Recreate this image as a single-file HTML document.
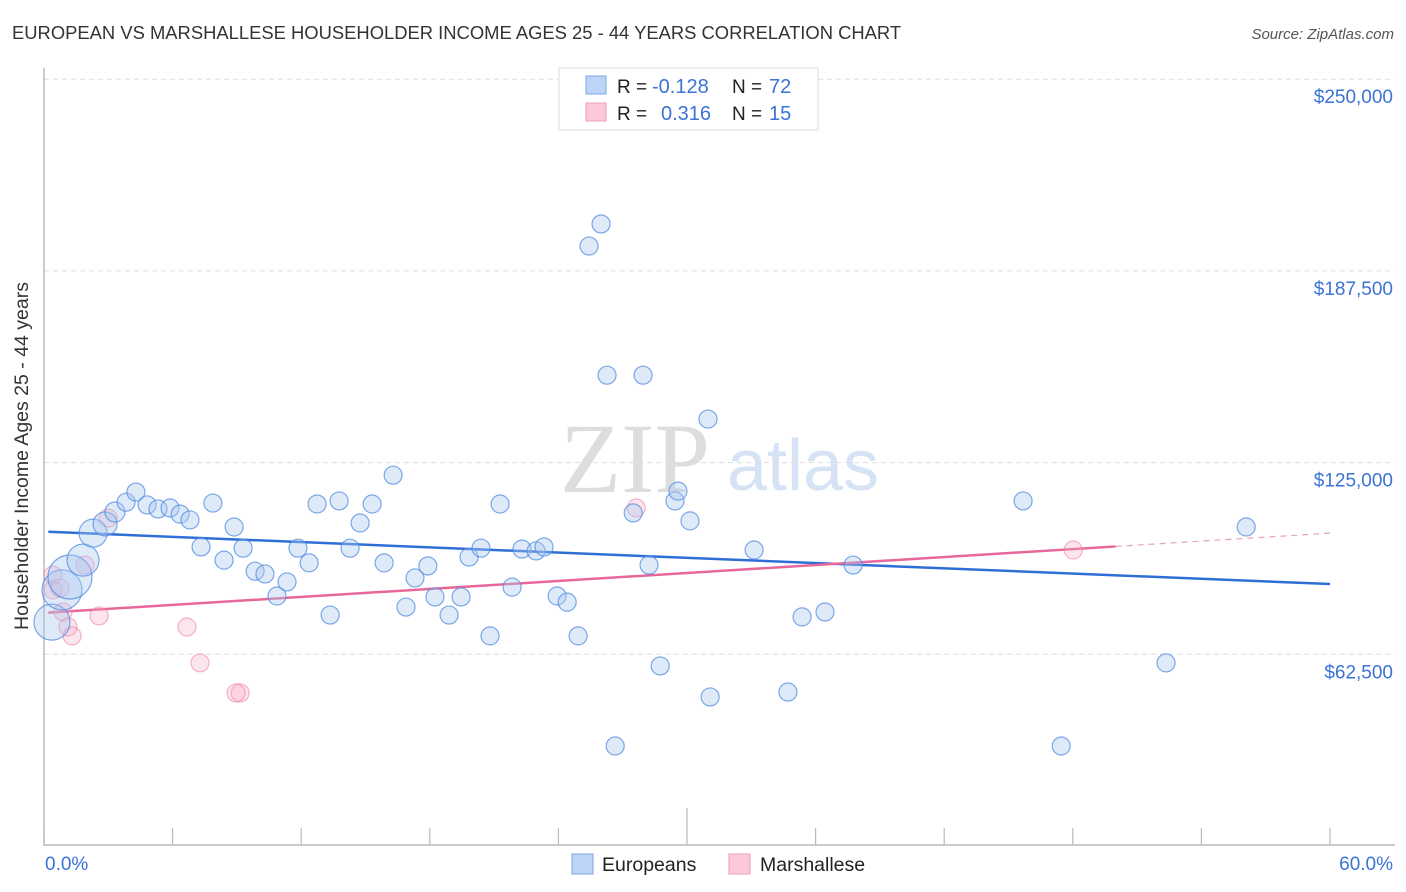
<!DOCTYPE html>
<html><head><meta charset="utf-8"><style>
body{margin:0;background:#fff;font-family:"Liberation Sans",sans-serif;}
svg{display:block}
</style></head><body>
<svg id="chart" width="1406" height="892">
<text x="12" y="39" font-size="18.4" fill="#333">EUROPEAN VS MARSHALLESE HOUSEHOLDER INCOME AGES 25 - 44 YEARS CORRELATION CHART</text>
<text x="1394" y="39" font-size="15" fill="#555" font-style="italic" text-anchor="end">Source: ZipAtlas.com</text>
<text x="28" y="456" font-size="19.5" fill="#333" text-anchor="middle" transform="rotate(-90 28 456)">Householder Income Ages 25 - 44 years</text>
<g>
<text x="635" y="492" font-size="100" fill="#ddd" font-family="Liberation Serif,serif" text-anchor="middle">ZIP</text>
<text x="803" y="490" font-size="72" fill="#d6e3f5" text-anchor="middle">atlas</text>
</g>
<g id="grid"></g><g id="axes"></g><g id="trends"></g><g id="points"></g>
<g>
<rect x="559" y="68" width="259" height="62" fill="#fff" stroke="#ddd"/>
<rect x="586" y="76" width="20" height="18" fill="#bcd4f6" stroke="#7aa7e6"/>
<rect x="586" y="103" width="20" height="18" fill="#fcc9d8" stroke="#ef9ab5"/>
<text x="617" y="93" font-size="19" fill="#222">R = </text><text x="652" y="93" font-size="20" fill="#3b73d6">-0.128</text>
<text x="732" y="93" font-size="19" fill="#222">N = </text><text x="769" y="93" font-size="20" fill="#3b73d6">72</text>
<text x="617" y="120" font-size="19" fill="#222">R = </text><text x="661" y="120" font-size="20" fill="#3b73d6">0.316</text>
<text x="732" y="120" font-size="19" fill="#222">N = </text><text x="769" y="120" font-size="20" fill="#3b73d6">15</text>
</g>
<g>
<rect x="572" y="854" width="21" height="20" fill="#bcd4f6" stroke="#7aa7e6"/>
<text x="602" y="871" font-size="19.5" fill="#222">Europeans</text>
<rect x="729" y="854" width="21" height="20" fill="#fcc9d8" stroke="#ef9ab5"/>
<text x="760" y="871" font-size="19.5" fill="#222">Marshallese</text>
</g>
</svg>
<script>
const yTicks=[62500,125000,187500,250000];
const yTickLabels=["$62,500","$125,000","$187,500","$250,000"];
const xTicks=[0,6,12,18,24,30,36,42,48,54,60];
const xEdgeLabels=["0.0%","60.0%"];
const euroX=[0.37,0.84,1.21,1.82,2.29,2.85,3.31,3.83,4.29,4.81,5.32,5.88,6.35,6.81,7.88,7.33,8.40,8.87,9.29,9.85,10.31,10.87,11.34,11.85,12.37,12.74,13.35,13.77,14.28,14.75,15.31,15.87,16.29,16.89,17.31,17.91,18.24,18.90,19.46,19.83,20.39,20.81,21.28,21.84,22.30,22.96,23.33,23.94,24.41,24.92,25.43,25.99,26.27,26.65,27.49,27.95,28.23,28.75,29.44,29.58,30.14,30.98,31.08,33.13,34.71,35.37,36.44,37.75,45.68,47.46,52.35,56.09];
const euroY=[73000,83500,87700,93200,102000,105000,108900,112100,115400,111200,109900,110200,108200,106300,111800,97500,93200,104000,97100,89600,88700,81500,86100,97100,92300,111500,75300,112500,97100,105300,111500,92300,120900,77900,87400,91300,81200,75300,81200,94200,97100,68500,111500,84400,96800,96200,97500,81500,79500,68500,195600,202800,153500,32600,108600,153500,91600,58700,112500,115700,106000,139200,48600,96500,50200,74700,76300,91600,112500,32600,59700,104000];
const euroSize=[18,20,22,16,14,12,10,9,9,9,9,9,9,9,9,9,9,9,9,9,9,9,9,9,9,9,9,9,9,9,9,9,9,9,9,9,9,9,9,9,9,9,9,9,9,9,9,9,9,9,9,9,9,9,9,9,9,9,9,9,9,9,9,9,9,9,9,9,9,9,9,9];
const marX=[0.42,0.42,0.75,0.89,1.12,1.31,1.91,2.99,2.57,6.67,7.28,9.15,8.96,27.63,48.02];
const marY=[88300,83500,84100,76300,71400,68500,91600,106900,75000,71400,59700,49900,49900,110200,96500];
const euroTrend=[102500,85400];
const marTrend=[76000,102000];
const marSolidEnd=50;

const NS="http://www.w3.org/2000/svg";
const X0=44,X1=1330,YB=846,PXPER=191.7/62500;
const sx=v=>X0+(v/60)*(X1-X0);
const sy=v=>YB-v*PXPER;
function mk(tag,attrs,parent){const e=document.createElementNS(NS,tag);for(const k in attrs)e.setAttribute(k,attrs[k]);parent.appendChild(e);return e;}
const grid=document.getElementById('grid'),axes=document.getElementById('axes');
yTicks.forEach((t,i)=>{
 const l=mk('line',{x1:44,x2:1395,y1:sy(t),y2:sy(t),stroke:'#ddd','stroke-dasharray':'5,4'},grid);
 
 
 const tx=mk('text',{x:1393,y:sy(t)+24,'font-size':19,fill:'#3b73d6','text-anchor':'end'},axes);
 tx.textContent=yTickLabels[i];
 
 
});
const yl=mk('line',{x1:44,x2:44,y1:68,y2:846,stroke:'#bbb','stroke-width':1.5},axes);


const xl=mk('line',{x1:44,x2:1395,y1:845,y2:845,stroke:'#bbb','stroke-width':1.5},axes);


xTicks.forEach(t=>{
 const tk=mk('line',{x1:sx(t),x2:sx(t),y1:(t===30?808:828),y2:845,stroke:'#bbb','stroke-width':1.2},axes);
 
 
});
const xa=mk('text',{x:45,y:870,'font-size':19,fill:'#3b73d6'},axes);xa.textContent=xEdgeLabels[0];


const xb=mk('text',{x:1393,y:870,'font-size':19,fill:'#3b73d6','text-anchor':'end'},axes);xb.textContent=xEdgeLabels[1];



const pts=document.getElementById('points');
marX.forEach((x,i)=>{
 const c=mk('circle',{cx:sx(x),cy:sy(marY[i]),r:9,fill:'rgba(247,170,198,0.3)',stroke:'rgba(236,130,165,0.6)','stroke-width':1.2},pts);
 
 
});
euroX.forEach((x,i)=>{
 const c=mk('circle',{cx:sx(x),cy:sy(euroY[i]),r:euroSize[i],fill:'rgba(170,200,240,0.38)',stroke:'rgba(80,140,225,0.75)','stroke-width':1.2},pts);
 
 
});
const tr=document.getElementById('trends');
const lerp=(a,x)=>a[0]+(a[1]-a[0])*x/60;
const be=mk('line',{x1:sx(0.2),y1:sy(lerp(euroTrend,0.2)),x2:sx(60),y2:sy(euroTrend[1]),stroke:'#2e6fd6','stroke-width':2.5},tr);


const pm=mk('line',{x1:sx(0.2),y1:sy(lerp(marTrend,0.2)),x2:sx(marSolidEnd),y2:sy(lerp(marTrend,marSolidEnd)),stroke:'#e8679a','stroke-width':2.5},tr);


const pd=mk('line',{x1:sx(marSolidEnd),y1:sy(lerp(marTrend,marSolidEnd)),x2:sx(60),y2:sy(marTrend[1]),stroke:'#e8a0bb','stroke-width':1.2,'stroke-dasharray':'6,5'},tr);


</script>
</body></html>
